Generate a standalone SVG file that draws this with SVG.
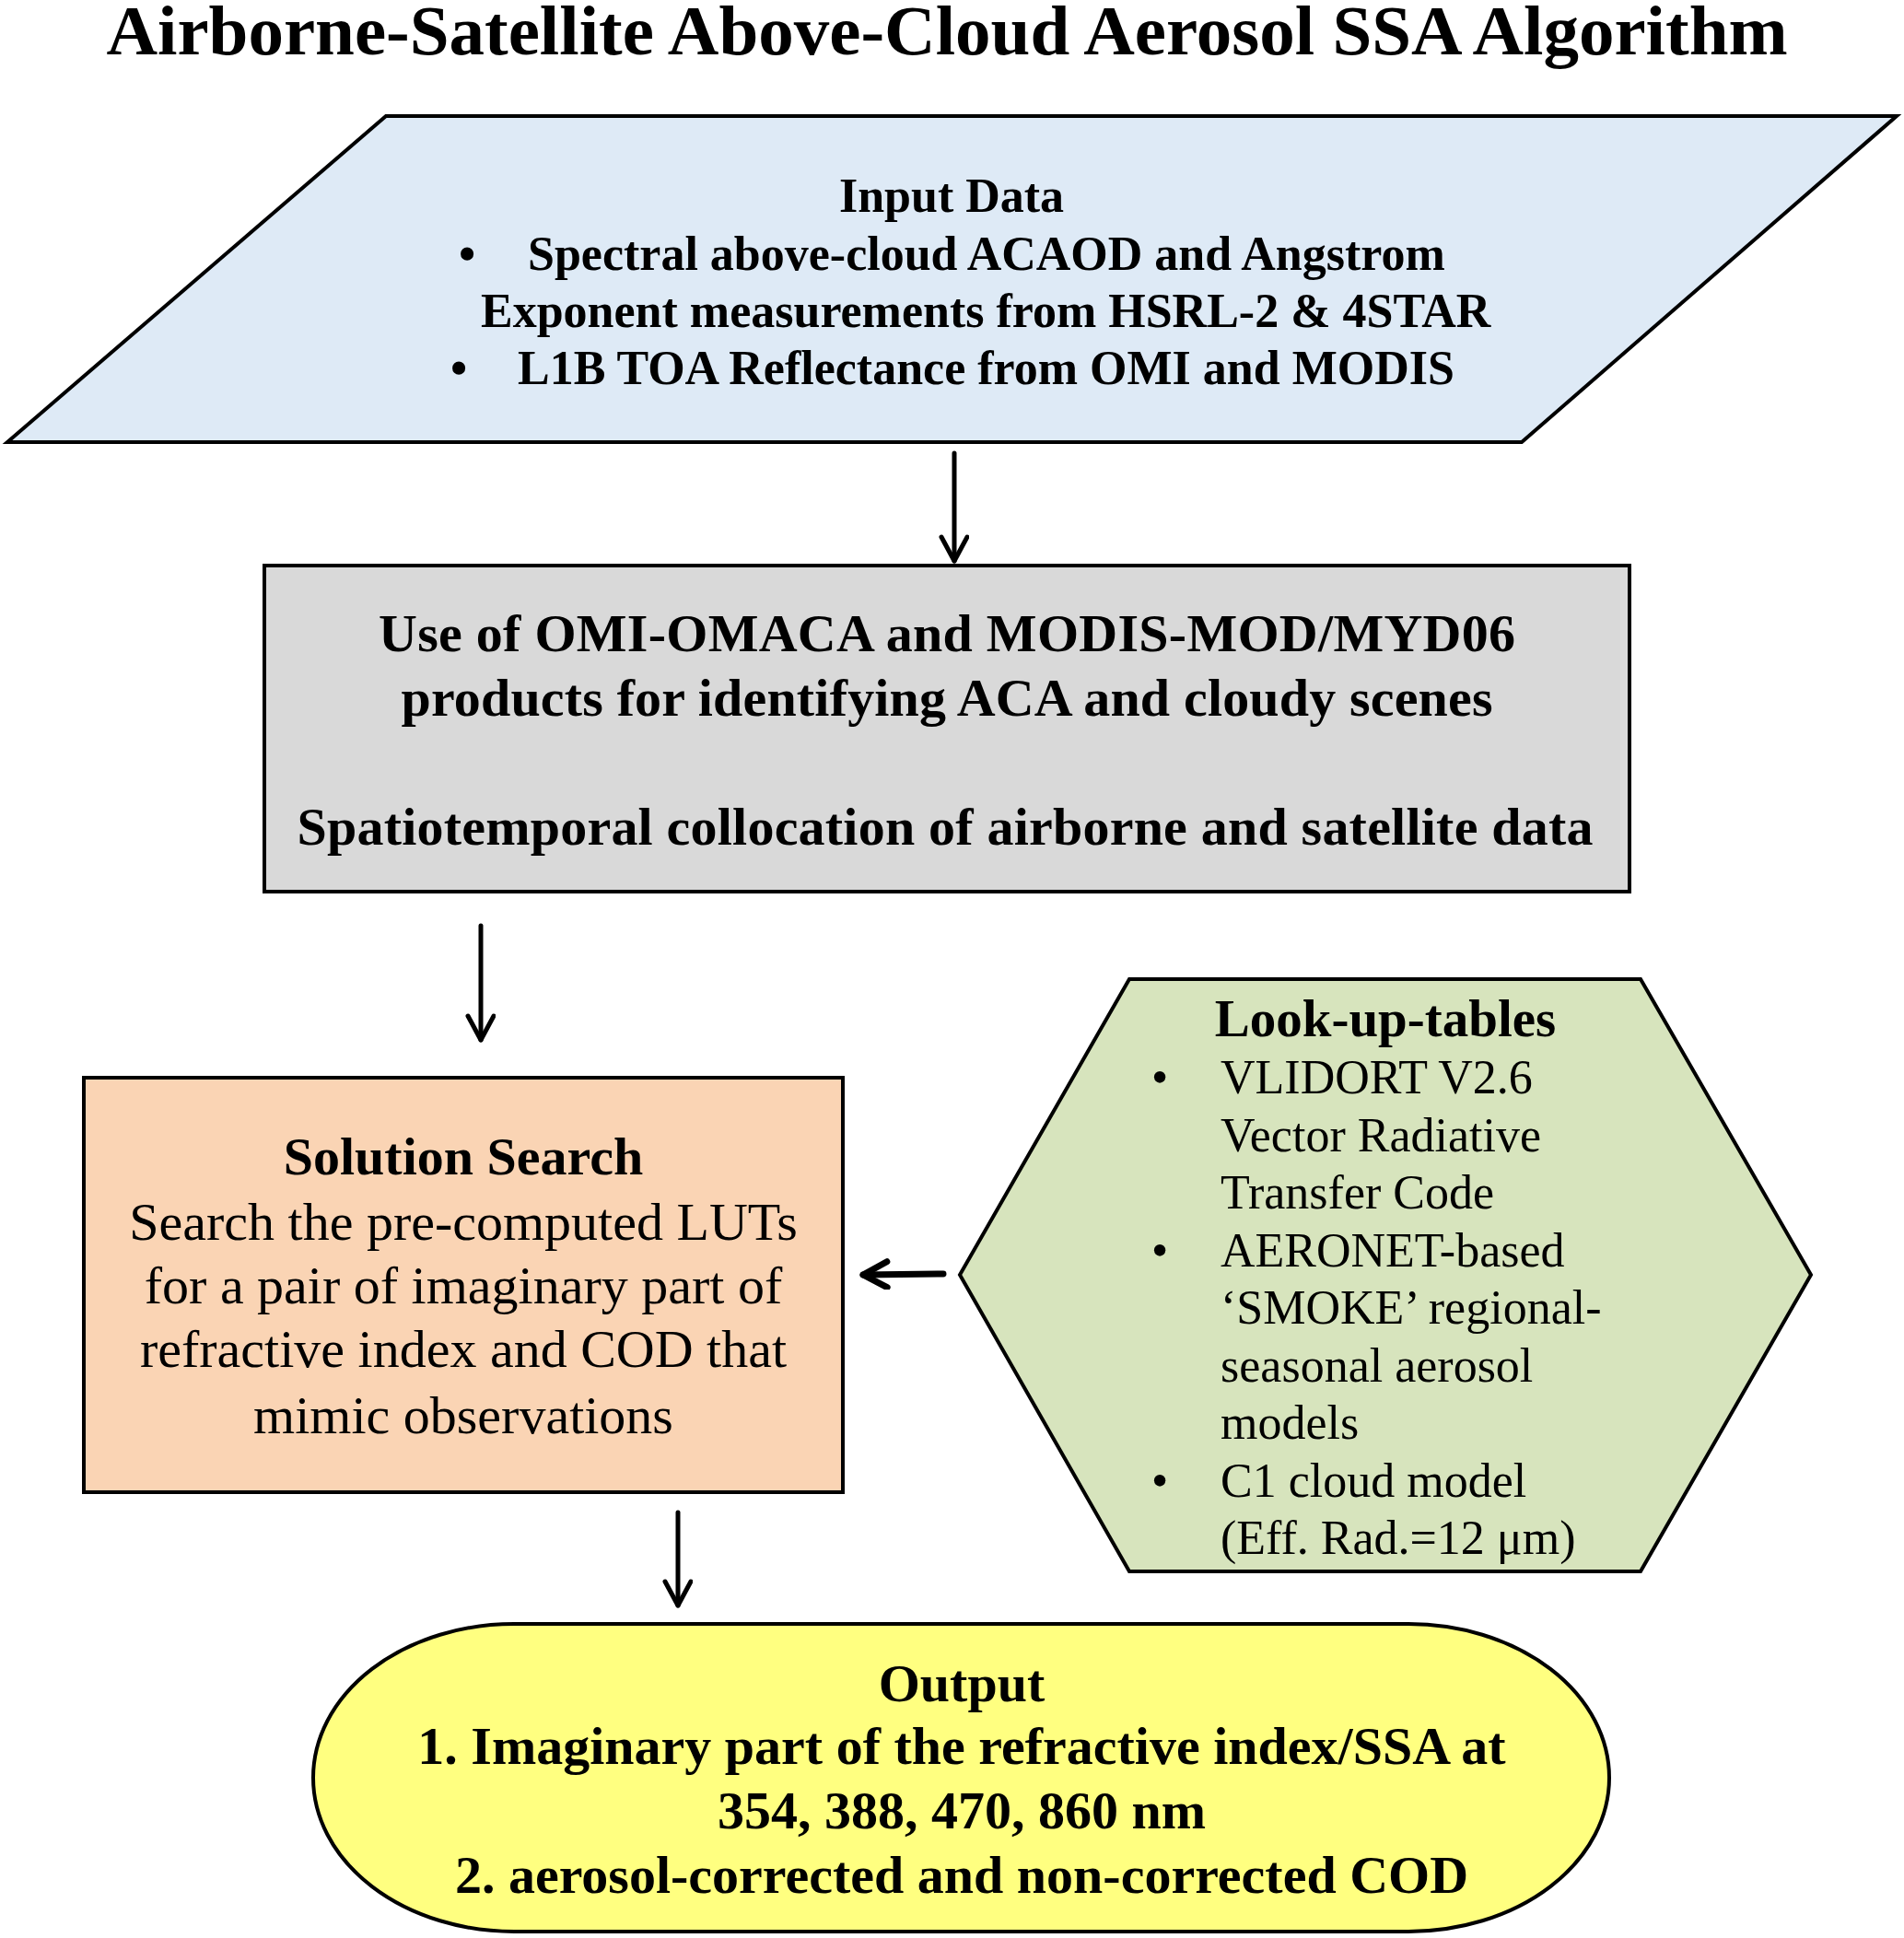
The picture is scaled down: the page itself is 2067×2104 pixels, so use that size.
<svg xmlns="http://www.w3.org/2000/svg" width="2067" height="2104" viewBox="0 0 2067 2104">
<style>
  text { font-family: "Liberation Serif", "Times New Roman", serif; fill: #000; }
  .b { font-weight: bold; }
  .title { font-size: 77px; font-weight: bold; }
  .shape { stroke: #000; stroke-width: 4; stroke-linejoin: miter; }
  .conn { stroke: #000; fill: none; stroke-linecap: round; }
</style>
<defs>
  <marker id="arr" markerUnits="userSpaceOnUse" markerWidth="40" markerHeight="40" refX="30" refY="16" orient="auto" viewBox="0 0 40 40">
    <path d="M4,2 L30,16 L4,30" fill="none" stroke="#000" stroke-width="5" stroke-linecap="round" stroke-linejoin="round"/>
  </marker>
  <marker id="arrL" markerUnits="userSpaceOnUse" markerWidth="40" markerHeight="40" refX="30" refY="16" orient="auto" viewBox="0 0 40 40">
    <path d="M4,2 L30,16 L4,30" fill="none" stroke="#000" stroke-width="7" stroke-linecap="round" stroke-linejoin="round"/>
  </marker>
</defs>
<rect width="2067" height="2104" fill="#fff"/>
<text class="title" x="1028" y="59" text-anchor="middle">Airborne-Satellite Above-Cloud Aerosol SSA Algorithm</text>

<g id="connectors">
  <line class="conn" x1="1036" y1="492" x2="1036" y2="609" stroke-width="5" marker-end="url(#arr)"/>
  <line class="conn" x1="522" y1="1005" x2="522" y2="1129" stroke-width="5" marker-end="url(#arr)"/>
  <line class="conn" x1="1024" y1="1383" x2="937" y2="1384" stroke-width="7" marker-end="url(#arrL)"/>
  <line class="conn" x1="736" y1="1642" x2="736" y2="1743" stroke-width="5" marker-end="url(#arr)"/>
</g>

<g id="input-data">
  <polygon class="shape" points="419,126 2059,126 1652,480 8,480" fill="#DEEAF6"/>
  <text class="b" font-size="52" x="1033" y="230" text-anchor="middle">Input Data</text>
  <text class="b" font-size="52" x="507" y="293" text-anchor="middle">•</text>
  <text class="b" font-size="52" x="573" y="293">Spectral above-cloud ACAOD and Angstrom</text>
  <text class="b" font-size="52" x="522" y="355">Exponent measurements from HSRL-2 &amp; 4STAR</text>
  <text class="b" font-size="52" x="498" y="417" text-anchor="middle">•</text>
  <text class="b" font-size="52" x="562" y="417">L1B TOA Reflectance from OMI and MODIS</text>
</g>

<g id="identification">
  <rect class="shape" x="287" y="614" width="1482" height="354" fill="#D9D9D9"/>
  <text class="b" font-size="58" x="1028" y="707" text-anchor="middle" textLength="1234" lengthAdjust="spacing">Use of OMI-OMACA and MODIS-MOD/MYD06</text>
  <text class="b" font-size="58" x="1028" y="777" text-anchor="middle" textLength="1185" lengthAdjust="spacing">products for identifying ACA and cloudy scenes</text>
  <text class="b" font-size="58" x="1026" y="917" text-anchor="middle" textLength="1407" lengthAdjust="spacing">Spatiotemporal collocation of airborne and satellite data</text>
</g>

<g id="solution-search">
  <rect class="shape" x="91" y="1170" width="824" height="450" fill="#FAD4B4"/>
  <text class="b" font-size="58" x="503" y="1275" text-anchor="middle">Solution Search</text>
  <text font-size="58" x="503" y="1346" text-anchor="middle">Search the pre-computed LUTs</text>
  <text font-size="58" x="503" y="1415" text-anchor="middle">for a pair of imaginary part of</text>
  <text font-size="58" x="503" y="1484" text-anchor="middle">refractive index and COD that</text>
  <text font-size="58" x="503" y="1556" text-anchor="middle">mimic observations</text>
</g>

<g id="look-up-tables">
  <polygon class="shape" points="1226,1063 1781,1063 1966,1384 1781,1706 1226,1706 1042,1384" fill="#D7E4BD"/>
  <text class="b" font-size="57" x="1504" y="1125" text-anchor="middle">Look-up-tables</text>
  <text font-size="52" x="1259" y="1187" text-anchor="middle">•</text>
  <text font-size="52" x="1325" y="1187">VLIDORT V2.6</text>
  <text font-size="52" x="1325" y="1250">Vector Radiative</text>
  <text font-size="52" x="1325" y="1312">Transfer Code</text>
  <text font-size="52" x="1259" y="1375" text-anchor="middle">•</text>
  <text font-size="52" x="1325" y="1375">AERONET-based</text>
  <text font-size="52" x="1325" y="1437">‘SMOKE’ regional-</text>
  <text font-size="52" x="1325" y="1500">seasonal aerosol</text>
  <text font-size="52" x="1325" y="1562">models</text>
  <text font-size="52" x="1259" y="1625" text-anchor="middle">•</text>
  <text font-size="52" x="1325" y="1625">C1 cloud model</text>
  <text font-size="52" x="1325" y="1687">(Eff. Rad.=12 μm)</text>
</g>

<g id="output">
  <rect class="shape" x="340" y="1763" width="1407" height="334" rx="218" ry="167" fill="#FFFF80" stroke-width="5"/>
  <text class="b" font-size="58" x="1044" y="1847" text-anchor="middle">Output</text>
  <text class="b" font-size="58" x="1044" y="1915" text-anchor="middle">1. Imaginary part of the refractive index/SSA at</text>
  <text class="b" font-size="58" x="1044" y="1985" text-anchor="middle">354, 388, 470, 860 nm</text>
  <text class="b" font-size="58" x="1044" y="2055" text-anchor="middle">2. aerosol-corrected and non-corrected COD</text>
</g>
</svg>
